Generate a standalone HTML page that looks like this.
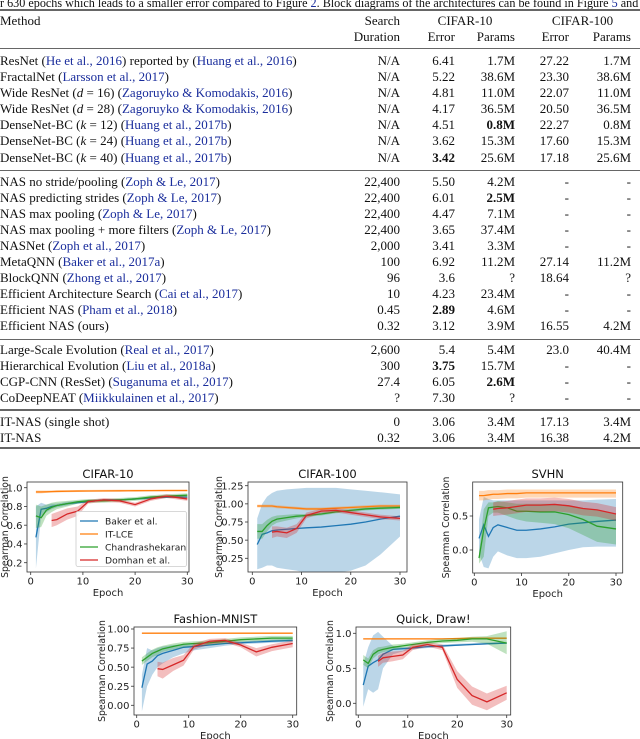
<!DOCTYPE html>
<html><head><meta charset="utf-8">
<style>
body{margin:0;width:640px;height:739px;overflow:hidden;background:#fff;position:relative;font-family:"Liberation Serif",serif;}
.r{position:absolute;left:0;width:640px;height:16px;line-height:16px;font-size:13px;color:#111;white-space:nowrap;}
.r span{position:absolute;top:0;}
.c0{left:0}
.c1{left:300px;width:100px;text-align:right}
.c2{left:400px;width:55px;text-align:right}
.c3{left:455px;width:60px;text-align:right}
.c4{left:515px;width:54px;text-align:right}
.c5{left:570px;width:61px;text-align:right}
a{color:#1a2d9c;text-decoration:none}
.rule{position:absolute;left:0;width:640px;background:#666;}
svg text{font-family:"DejaVu Sans",sans-serif;}
#cap{position:absolute;left:0;top:-5px;font-size:13px;line-height:16px;white-space:nowrap;transform-origin:0 0;transform:scaleX(0.935);color:#111}
</style></head><body>
<div id="cap">r 630 epochs which leads to a smaller error compared to Figure <a>2</a>. Block diagrams of the architectures can be found in Figure <a>5</a> and <a>6</a>.</div>
<div class="rule" style="top:9px;height:2px"></div>
<div class="r" style="top:13px"><span class="c0">Method</span><span class="c1">Search</span><span style="left:420px;width:90px;text-align:center">CIFAR-10</span><span style="left:535px;width:95px;text-align:center">CIFAR-100</span></div>
<div class="r" style="top:29px"><span class="c1">Duration</span><span class="c2">Error</span><span class="c3">Params</span><span class="c4">Error</span><span class="c5">Params</span></div>
<div class="rule" style="top:48px;height:1px"></div>

<div class="r" style="top:53px"><span class="c0">ResNet (<a>He et al., 2016</a>) reported by (<a>Huang et al., 2016</a>)</span><span class="c1">N/A</span><span class="c2">6.41</span><span class="c3">1.7M</span><span class="c4">27.22</span><span class="c5">1.7M</span></div>
<div class="r" style="top:69px"><span class="c0">FractalNet (<a>Larsson et al., 2017</a>)</span><span class="c1">N/A</span><span class="c2">5.22</span><span class="c3">38.6M</span><span class="c4">23.30</span><span class="c5">38.6M</span></div>
<div class="r" style="top:85px"><span class="c0">Wide ResNet (<i>d</i> = 16) (<a>Zagoruyko &amp; Komodakis, 2016</a>)</span><span class="c1">N/A</span><span class="c2">4.81</span><span class="c3">11.0M</span><span class="c4">22.07</span><span class="c5">11.0M</span></div>
<div class="r" style="top:101px"><span class="c0">Wide ResNet (<i>d</i> = 28) (<a>Zagoruyko &amp; Komodakis, 2016</a>)</span><span class="c1">N/A</span><span class="c2">4.17</span><span class="c3">36.5M</span><span class="c4">20.50</span><span class="c5">36.5M</span></div>
<div class="r" style="top:117px"><span class="c0">DenseNet-BC (<i>k</i> = 12) (<a>Huang et al., 2017b</a>)</span><span class="c1">N/A</span><span class="c2">4.51</span><span class="c3"><b>0.8M</b></span><span class="c4">22.27</span><span class="c5">0.8M</span></div>
<div class="r" style="top:133px"><span class="c0">DenseNet-BC (<i>k</i> = 24) (<a>Huang et al., 2017b</a>)</span><span class="c1">N/A</span><span class="c2">3.62</span><span class="c3">15.3M</span><span class="c4">17.60</span><span class="c5">15.3M</span></div>
<div class="r" style="top:150px"><span class="c0">DenseNet-BC (<i>k</i> = 40) (<a>Huang et al., 2017b</a>)</span><span class="c1">N/A</span><span class="c2"><b>3.42</b></span><span class="c3">25.6M</span><span class="c4">17.18</span><span class="c5">25.6M</span></div>
<div class="rule" style="top:170px;height:1px"></div>

<div class="r" style="top:174px"><span class="c0">NAS no stride/pooling (<a>Zoph &amp; Le, 2017</a>)</span><span class="c1">22,400</span><span class="c2">5.50</span><span class="c3">4.2M</span><span class="c4">-</span><span class="c5">-</span></div>
<div class="r" style="top:190px"><span class="c0">NAS predicting strides (<a>Zoph &amp; Le, 2017</a>)</span><span class="c1">22,400</span><span class="c2">6.01</span><span class="c3"><b>2.5M</b></span><span class="c4">-</span><span class="c5">-</span></div>
<div class="r" style="top:206px"><span class="c0">NAS max pooling (<a>Zoph &amp; Le, 2017</a>)</span><span class="c1">22,400</span><span class="c2">4.47</span><span class="c3">7.1M</span><span class="c4">-</span><span class="c5">-</span></div>
<div class="r" style="top:222px"><span class="c0">NAS max pooling + more filters (<a>Zoph &amp; Le, 2017</a>)</span><span class="c1">22,400</span><span class="c2">3.65</span><span class="c3">37.4M</span><span class="c4">-</span><span class="c5">-</span></div>
<div class="r" style="top:238px"><span class="c0">NASNet (<a>Zoph et al., 2017</a>)</span><span class="c1">2,000</span><span class="c2">3.41</span><span class="c3">3.3M</span><span class="c4">-</span><span class="c5">-</span></div>
<div class="r" style="top:254px"><span class="c0">MetaQNN (<a>Baker et al., 2017a</a>)</span><span class="c1">100</span><span class="c2">6.92</span><span class="c3">11.2M</span><span class="c4">27.14</span><span class="c5">11.2M</span></div>
<div class="r" style="top:270px"><span class="c0">BlockQNN (<a>Zhong et al., 2017</a>)</span><span class="c1">96</span><span class="c2">3.6</span><span class="c3">?</span><span class="c4">18.64</span><span class="c5">?</span></div>
<div class="r" style="top:286px"><span class="c0">Efficient Architecture Search (<a>Cai et al., 2017</a>)</span><span class="c1">10</span><span class="c2">4.23</span><span class="c3">23.4M</span><span class="c4">-</span><span class="c5">-</span></div>
<div class="r" style="top:302px"><span class="c0">Efficient NAS (<a>Pham et al., 2018</a>)</span><span class="c1">0.45</span><span class="c2"><b>2.89</b></span><span class="c3">4.6M</span><span class="c4">-</span><span class="c5">-</span></div>
<div class="r" style="top:318px"><span class="c0">Efficient NAS (ours)</span><span class="c1">0.32</span><span class="c2">3.12</span><span class="c3">3.9M</span><span class="c4">16.55</span><span class="c5">4.2M</span></div>
<div class="rule" style="top:339px;height:1px"></div>

<div class="r" style="top:342px"><span class="c0">Large-Scale Evolution (<a>Real et al., 2017</a>)</span><span class="c1">2,600</span><span class="c2">5.4</span><span class="c3">5.4M</span><span class="c4">23.0</span><span class="c5">40.4M</span></div>
<div class="r" style="top:358px"><span class="c0">Hierarchical Evolution (<a>Liu et al., 2018a</a>)</span><span class="c1">300</span><span class="c2"><b>3.75</b></span><span class="c3">15.7M</span><span class="c4">-</span><span class="c5">-</span></div>
<div class="r" style="top:374px"><span class="c0">CGP-CNN (ResSet) (<a>Suganuma et al., 2017</a>)</span><span class="c1">27.4</span><span class="c2">6.05</span><span class="c3"><b>2.6M</b></span><span class="c4">-</span><span class="c5">-</span></div>
<div class="r" style="top:390px"><span class="c0">CoDeepNEAT (<a>Miikkulainen et al., 2017</a>)</span><span class="c1">?</span><span class="c2">7.30</span><span class="c3">?</span><span class="c4">-</span><span class="c5">-</span></div>
<div class="rule" style="top:409px;height:2px"></div>

<div class="r" style="top:414px"><span class="c0">IT-NAS (single shot)</span><span class="c1">0</span><span class="c2">3.06</span><span class="c3">3.4M</span><span class="c4">17.13</span><span class="c5">3.4M</span></div>
<div class="r" style="top:430px"><span class="c0">IT-NAS</span><span class="c1">0.32</span><span class="c2">3.06</span><span class="c3">3.4M</span><span class="c4">16.38</span><span class="c5">4.2M</span></div>
<div class="rule" style="top:447px;height:1.5px"></div>

<svg id="charts" width="640" height="739" style="position:absolute;left:0;top:0"></svg>
<script>
const epochs=[1,2,3,4,5,7,9,11,14,17,20,23,26,30];
const domEpochs=[4,5,7,9,11,14,17,20,23,26,30];
const seriesNames=["Baker et al.","IT-LCE","Chandrashekaran","Domhan et al."];
const xTickVals=[0,10,20,30];
const xTickLabels=["0","10","20","30"];

// CIFAR-10
const c10Baker=[0.47,0.77,0.78,0.80,0.81,0.83,0.84,0.85,0.87,0.87,0.88,0.89,0.90,0.90];
const c10BakerLo=[0.14,0.70,0.74,0.77,0.79,0.81,0.83,0.84,0.86,0.86,0.87,0.88,0.89,0.89];
const c10BakerHi=[0.80,0.84,0.82,0.83,0.83,0.85,0.86,0.87,0.88,0.88,0.89,0.90,0.91,0.91];
const c10Lce=[0.955,0.955,0.956,0.958,0.96,0.962,0.964,0.965,0.966,0.967,0.968,0.969,0.97,0.97];
const c10LceLo=[0.94,0.94,0.945,0.947,0.95,0.952,0.954,0.955,0.956,0.957,0.958,0.959,0.96,0.96];
const c10LceHi=[0.97,0.97,0.97,0.972,0.974,0.975,0.976,0.977,0.978,0.979,0.98,0.98,0.98,0.98];
const c10Chandra=[0.70,0.68,0.76,0.79,0.81,0.83,0.85,0.86,0.86,0.87,0.88,0.90,0.91,0.92];
const c10ChandraLo=[0.57,0.58,0.70,0.74,0.77,0.80,0.83,0.84,0.84,0.85,0.86,0.88,0.89,0.90];
const c10ChandraHi=[0.82,0.80,0.82,0.84,0.85,0.86,0.87,0.88,0.88,0.89,0.90,0.92,0.93,0.94];
const c10Dom=[0.65,0.66,0.72,0.75,0.85,0.87,0.86,0.82,0.88,0.91,0.88];
const c10DomLo=[0.58,0.60,0.66,0.70,0.83,0.85,0.84,0.80,0.86,0.89,0.86];
const c10DomHi=[0.72,0.74,0.78,0.80,0.87,0.89,0.88,0.84,0.90,0.93,0.90];
const c10YTicks=[0.2,0.4,0.6,0.8,1.0];
const c10YLabels=["0.2","0.4","0.6","0.8","1.0"];

// CIFAR-100
const c100Baker=[0.44,0.58,0.60,0.63,0.64,0.65,0.66,0.67,0.68,0.70,0.72,0.75,0.79,0.83];
const c100BakerLo=[0.10,0.12,0.15,0.15,0.12,0.10,0.08,0.05,0.05,0.05,0.08,0.15,0.30,0.55];
const c100BakerHi=[0.80,1.00,1.10,1.15,1.18,1.20,1.21,1.22,1.22,1.22,1.20,1.18,1.16,1.13];
const c100Lce=[0.97,0.97,0.97,0.97,0.96,0.95,0.94,0.93,0.93,0.94,0.95,0.96,0.97,0.97];
const c100LceLo=[0.95,0.95,0.95,0.95,0.94,0.93,0.92,0.91,0.91,0.92,0.93,0.94,0.95,0.95];
const c100LceHi=[0.99,0.99,0.99,0.99,0.98,0.97,0.96,0.95,0.95,0.96,0.97,0.98,0.99,0.99];
const c100Chandra=[0.62,0.62,0.70,0.76,0.79,0.81,0.83,0.84,0.86,0.89,0.91,0.93,0.94,0.95];
const c100ChandraLo=[0.52,0.52,0.62,0.70,0.74,0.77,0.80,0.82,0.84,0.87,0.89,0.91,0.92,0.93];
const c100ChandraHi=[0.72,0.72,0.78,0.82,0.84,0.85,0.86,0.86,0.88,0.91,0.93,0.95,0.96,0.97];
const c100Dom=[0.61,0.62,0.60,0.66,0.84,0.90,0.91,0.88,0.85,0.82,0.80];
const c100DomLo=[0.53,0.55,0.53,0.60,0.80,0.87,0.88,0.85,0.82,0.79,0.77];
const c100DomHi=[0.69,0.69,0.67,0.72,0.88,0.93,0.94,0.91,0.88,0.85,0.83];
const c100YTicks=[0.25,0.5,0.75,1.0,1.25];
const c100YLabels=["0.25","0.50","0.75","1.00","1.25"];

// SVHN
const svBaker=[0.17,0.37,0.20,0.33,0.37,0.33,0.29,0.29,0.31,0.34,0.38,0.40,0.42,0.44];
const svBakerLo=[-0.05,-0.25,-0.27,-0.10,-0.02,-0.08,-0.12,-0.12,-0.10,-0.05,0.00,0.04,0.05,0.05];
const svBakerHi=[0.45,0.78,0.75,0.73,0.73,0.73,0.73,0.73,0.73,0.73,0.73,0.73,0.74,0.75];
const svLce=[0.80,0.80,0.81,0.82,0.82,0.83,0.83,0.84,0.84,0.84,0.84,0.84,0.84,0.84];
const svLceLo=[0.73,0.73,0.74,0.75,0.75,0.76,0.76,0.77,0.77,0.77,0.77,0.77,0.77,0.77];
const svLceHi=[0.87,0.87,0.88,0.88,0.88,0.89,0.89,0.89,0.89,0.89,0.89,0.89,0.89,0.89];
const svChandra=[-0.12,0.30,0.62,0.63,0.64,0.62,0.57,0.57,0.56,0.56,0.52,0.45,0.35,0.31];
const svChandraLo=[-0.20,-0.10,0.50,0.55,0.55,0.50,0.45,0.42,0.40,0.38,0.32,0.22,0.12,0.08];
const svChandraHi=[-0.05,0.60,0.70,0.70,0.72,0.70,0.68,0.68,0.68,0.68,0.66,0.62,0.58,0.52];
const svDom=[0.60,0.61,0.62,0.64,0.66,0.66,0.67,0.65,0.61,0.59,0.53];
const svDomLo=[0.50,0.51,0.52,0.54,0.56,0.56,0.57,0.55,0.51,0.49,0.43];
const svDomHi=[0.70,0.71,0.72,0.74,0.76,0.76,0.77,0.75,0.71,0.69,0.63];
const svYTicks=[0.0,0.5];
const svYLabels=["0.0","0.5"];

// Fashion-MNIST
const fmBaker=[0.23,0.54,0.58,0.65,0.68,0.72,0.76,0.77,0.79,0.81,0.82,0.83,0.84,0.85];
const fmBakerLo=[-0.08,0.25,0.40,0.50,0.55,0.63,0.68,0.72,0.75,0.78,0.80,0.81,0.82,0.83];
const fmBakerHi=[0.40,0.75,0.72,0.75,0.77,0.79,0.80,0.81,0.83,0.84,0.84,0.85,0.86,0.87];
const fmLce=[0.945,0.945,0.945,0.945,0.945,0.945,0.945,0.945,0.945,0.945,0.945,0.945,0.945,0.945];
const fmLceLo=[0.94,0.94,0.94,0.94,0.94,0.94,0.94,0.94,0.94,0.94,0.94,0.94,0.94,0.94];
const fmLceHi=[0.95,0.95,0.95,0.95,0.95,0.95,0.95,0.95,0.95,0.95,0.95,0.95,0.95,0.95];
const fmChandra=[0.58,0.63,0.68,0.71,0.74,0.77,0.80,0.81,0.82,0.84,0.86,0.87,0.88,0.88];
const fmChandraLo=[0.53,0.58,0.63,0.66,0.70,0.73,0.76,0.78,0.79,0.81,0.83,0.84,0.85,0.85];
const fmChandraHi=[0.63,0.68,0.73,0.76,0.78,0.81,0.83,0.84,0.85,0.87,0.89,0.90,0.91,0.91];
const fmDom=[0.48,0.47,0.53,0.59,0.77,0.84,0.85,0.79,0.70,0.76,0.81];
const fmDomLo=[0.38,0.35,0.45,0.52,0.73,0.80,0.82,0.76,0.64,0.71,0.76];
const fmDomHi=[0.57,0.56,0.62,0.66,0.81,0.87,0.88,0.82,0.75,0.80,0.85];
const fmYTicks=[0,0.25,0.5,0.75,1.0];
const fmYLabels=["0.00","0.25","0.50","0.75","1.00"];

// Quick, Draw!
const qdBaker=[0.26,0.53,0.58,0.62,0.70,0.77,0.78,0.79,0.81,0.82,0.83,0.84,0.85,0.86];
const qdBakerLo=[-0.05,0.20,0.15,0.20,0.50,0.70,0.74,0.77,0.79,0.80,0.82,0.83,0.84,0.85];
const qdBakerHi=[0.55,0.80,0.97,1.02,0.95,0.82,0.80,0.81,0.83,0.84,0.85,0.86,0.87,0.88];
const qdLce=[0.92,0.92,0.92,0.92,0.92,0.92,0.92,0.92,0.92,0.92,0.925,0.93,0.93,0.93];
const qdLceLo=[0.91,0.91,0.91,0.91,0.91,0.91,0.91,0.91,0.91,0.91,0.915,0.92,0.92,0.92];
const qdLceHi=[0.93,0.93,0.93,0.93,0.93,0.93,0.93,0.93,0.93,0.93,0.935,0.94,0.94,0.94];
const qdChandra=[0.62,0.57,0.70,0.75,0.77,0.80,0.82,0.84,0.87,0.89,0.90,0.92,0.92,0.86];
const qdChandraLo=[0.55,0.50,0.64,0.70,0.73,0.76,0.79,0.81,0.84,0.86,0.87,0.88,0.85,0.70];
const qdChandraHi=[0.69,0.64,0.76,0.80,0.81,0.84,0.85,0.87,0.90,0.92,0.93,0.95,0.96,1.03];
const qdDom=[0.60,0.65,0.67,0.69,0.80,0.84,0.80,0.34,0.11,0.02,0.15];
const qdDomLo=[0.52,0.58,0.60,0.63,0.76,0.81,0.76,0.22,-0.02,-0.10,0.05];
const qdDomHi=[0.68,0.72,0.74,0.75,0.84,0.87,0.84,0.46,0.24,0.14,0.25];
const qdYTicks=[0.0,0.5,1.0];
const qdYLabels=["0.0","0.5","1.0"];

const colors=["#1f77b4","#ff7f0e","#2ca02c","#d62728"];
const svg=document.getElementById('charts');
const NS="http://www.w3.org/2000/svg";
function mk(tag,attrs,parent){const e=document.createElementNS(NS,tag);for(const k in attrs)e.setAttribute(k,attrs[k]);(parent||svg).appendChild(e);return e;}

function chart(cfg){
  const g=mk('g',{});
  
  
  const xs=v=>cfg.x0+(cfg.x30-cfg.x0)*v/30;
  const ys=v=>cfg.pa+(cfg.pb-cfg.pa)*(v-cfg.va)/(cfg.vb-cfg.va);
  const clipId='clip-'+cfg.name;
  const cp=mk('clipPath',{id:clipId},g);
  mk('rect',{x:cfg.l,y:cfg.t,width:cfg.r-cfg.l,height:cfg.b-cfg.t},cp);
  const plot=mk('g',{'clip-path':'url(#'+clipId+')'},g);
  cfg.series.forEach((s,i)=>{
    const ex=s.ep;
    let d='';
    ex.forEach((e,j)=>{d+=(j?'L':'M')+xs(e).toFixed(2)+','+ys(s.hi[j]).toFixed(2);});
    for(let j=ex.length-1;j>=0;j--)d+='L'+xs(ex[j]).toFixed(2)+','+ys(s.lo[j]).toFixed(2);
    const band=mk('path',{d:d+'Z',fill:colors[i],'fill-opacity':0.3,stroke:'none'},plot);
    
    
    const pts=ex.map((e,j)=>xs(e).toFixed(2)+','+ys(s.v[j]).toFixed(2)).join(' ');
    const ln=mk('polyline',{points:pts,fill:'none',stroke:colors[i],'stroke-width':1.3},plot);
    
    
  });
  const frame=mk('rect',{x:cfg.l,y:cfg.t,width:cfg.r-cfg.l,height:cfg.b-cfg.t,fill:'none',stroke:'#333','stroke-width':0.8},g);
  
  
  xTickVals.forEach((v,i)=>{
    const x=xs(v);
    mk('line',{x1:x,x2:x,y1:cfg.b,y2:cfg.b+3,stroke:'#333','stroke-width':0.8},g);
    const t=mk('text',{x:x,y:cfg.b+12.5,'font-size':10,'text-anchor':'middle',fill:'#222'},g);
    t.textContent=xTickLabels[i];
    
    
  });
  cfg.yt.forEach((v,i)=>{
    const y=ys(v);
    mk('line',{x1:cfg.l-3,x2:cfg.l,y1:y,y2:y,stroke:'#333','stroke-width':0.8},g);
    const t=mk('text',{x:cfg.l-4.5,y:y+3.6,'font-size':10,'text-anchor':'end',fill:'#222'},g);
    t.textContent=cfg.yl[i];
    
    
  });
  const xt=mk('text',{x:(cfg.l+cfg.r)/2,y:cfg.b+24,'font-size':10,'text-anchor':'middle',fill:'#222'},g);
  xt.textContent='Epoch';
  
  
  const cy=(cfg.t+cfg.b)/2;
  const yt=mk('text',{x:cfg.ylx,y:cy,'font-size':9.3,'text-anchor':'middle',fill:'#222',transform:'rotate(-90 '+cfg.ylx+' '+cy+')'},g);
  yt.textContent='Spearman Correlation';
  
  
  const tt=mk('text',{x:(cfg.l+cfg.r)/2,y:cfg.t-4,'font-size':11.5,'text-anchor':'middle',fill:'#111'},g);
  tt.textContent=cfg.title;
  
  
  if(cfg.legend){
    const lg=mk('g',{},g);
    
    
    mk('rect',{x:76,y:511.5,width:110.5,height:55,rx:2,fill:'#fff','fill-opacity':0.85,stroke:'#ccc','stroke-width':0.8},lg);
    seriesNames.forEach((n,i)=>{
      const y=521+i*13;
      mk('line',{x1:80,x2:98,y1:y,y2:y,stroke:colors[i],'stroke-width':1.3},lg);
      const t=mk('text',{x:105,y:y+3.3,'font-size':9.2,fill:'#222'},lg);
      t.textContent=n;
      
      
    });
  }
}
function S(ep,v,lo,hi){return {ep,v,lo,hi};}

chart({name:'cifar10-chart',title:'CIFAR-10',l:27,r:189,t:482,b:572,x0:30.7,x30:187.3,va:1.0,pa:487.7,vb:0.2,pb:562.7,yt:c10YTicks,yl:c10YLabels,ylx:8,legend:true,
  series:[S(epochs,c10Baker,c10BakerLo,c10BakerHi),S(epochs,c10Lce,c10LceLo,c10LceHi),S(epochs,c10Chandra,c10ChandraLo,c10ChandraHi),S(domEpochs,c10Dom,c10DomLo,c10DomHi)]});
chart({name:'cifar100-chart',title:'CIFAR-100',l:248,r:407,t:482,b:572,x0:252.3,x30:400,va:1.25,pa:485.7,vb:0.25,pb:558.3,yt:c100YTicks,yl:c100YLabels,ylx:222,
  series:[S(epochs,c100Baker,c100BakerLo,c100BakerHi),S(epochs,c100Lce,c100LceLo,c100LceHi),S(epochs,c100Chandra,c100ChandraLo,c100ChandraHi),S(domEpochs,c100Dom,c100DomLo,c100DomHi)]});
chart({name:'svhn-chart',title:'SVHN',l:472.7,r:622.7,t:482,b:573,x0:474.3,x30:616,va:0.5,pa:516,vb:0.0,pb:550,yt:svYTicks,yl:svYLabels,ylx:449,
  series:[S(epochs,svBaker,svBakerLo,svBakerHi),S(epochs,svLce,svLceLo,svLceHi),S(epochs,svChandra,svChandraLo,svChandraHi),S(domEpochs,svDom,svDomLo,svDomHi)]});
chart({name:'fashion-mnist-chart',title:'Fashion-MNIST',l:134,r:296.7,t:627,b:715,x0:136.7,x30:292.7,va:1.0,pa:629,vb:0.0,pb:705.3,yt:fmYTicks,yl:fmYLabels,ylx:105,
  series:[S(epochs,fmBaker,fmBakerLo,fmBakerHi),S(epochs,fmLce,fmLceLo,fmLceHi),S(epochs,fmChandra,fmChandraLo,fmChandraHi),S(domEpochs,fmDom,fmDomLo,fmDomHi)]});
chart({name:'quickdraw-chart',title:'Quick, Draw!',l:356,r:510.7,t:627,b:715,x0:358.3,x30:506.7,va:1.0,pa:633.3,vb:0.0,pb:703.3,yt:qdYTicks,yl:qdYLabels,ylx:333,
  series:[S(epochs,qdBaker,qdBakerLo,qdBakerHi),S(epochs,qdLce,qdLceLo,qdLceHi),S(epochs,qdChandra,qdChandraLo,qdChandraHi),S(domEpochs,qdDom,qdDomLo,qdDomHi)]});
</script>
</body></html>
